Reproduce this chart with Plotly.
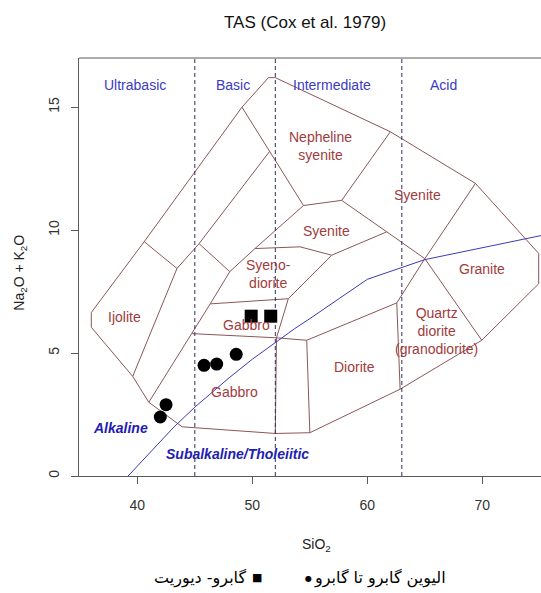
import plotly.graph_objects as go

# ---- sample analyses: SiO2 (wt%) and Na2O+K2O (wt%) ----
OL_GABBRO_SIO2 = [42.0, 42.5, 45.8, 46.9, 48.6]
OL_GABBRO_ALK = [2.4, 2.9, 4.5, 4.55, 4.95]
GAB_DIOR_SIO2 = [49.9, 51.6]
GAB_DIOR_ALK = [6.5, 6.5]
OL_GABBRO_NAME = "الیوین گابرو تا گابرو"
GAB_DIOR_NAME = "گابرو- دیوریت"

# ---- alkaline / subalkaline divide (Irvine & Baragar) ----
ALK_DIVIDE_SIO2 = [39.2, 40, 43.2, 45, 48, 50, 53.7, 55, 60, 65, 77.4]
ALK_DIVIDE_ALK = [0, 0.4, 2, 2.8, 4, 4.75, 6, 6.4, 8, 8.8, 10]

# ---- silica classes ----
SILICA_DIVISIONS = [45, 52, 63]
SILICA_CLASSES = ["Ultrabasic", "Basic", "Intermediate", "Acid"]
SILICA_CLASS_X = [39.8, 48.3, 56.9, 66.6]
SILICA_CLASS_Y = 15.9

# ---- field boundaries (SiO2, Na2O+K2O) ----
OUTLINE_SIO2 = [36.0, 40.6, 49.1, 51.4, 52.0, 62.0, 69.4, 74.9, 74.9, 69.95,
                62.85, 55.0, 52.0, 43.9, 41.0, 39.6, 36.0, 36.0]
OUTLINE_ALK = [6.65, 9.53, 15.0, 16.2, 16.2, 14.0, 11.9, 9.05, 7.82, 5.52,
               3.53, 1.76, 1.73, 2.0, 3.0, 4.05, 6.05, 6.65]
IJOLITE_TOP = ([40.6, 43.45], [9.53, 8.44])
IJOLITE_RIGHT = ([43.45, 39.6], [8.44, 4.05])
STRIP_UPPER = ([43.45, 45.37, 51.5], [8.44, 9.45, 13.2])
STRIP_STUB = ([45.37, 48.04], [9.45, 8.31])
STRIP_LOWER = ([41.0, 44.76, 46.34, 48.04, 50.23, 54.45], [3.0, 5.79, 7.0, 8.31, 9.25, 11.0])
NEPH_LEFT = ([49.1, 51.5, 54.45], [15.0, 13.2, 11.0])
NEPH_BASE = ([54.45, 57.77, 62.0], [11.0, 11.21, 14.0])
SYENITE_RIGHT = ([69.4, 65.0, 61.69, 57.77], [11.9, 8.84, 9.93, 11.21])
SYENITE_BASE = ([61.69, 56.9], [9.93, 8.98])
SYENODIORITE_TOP = ([50.23, 54.15, 56.9], [9.25, 9.32, 8.98])
SYENODIORITE_RIGHT = ([56.9, 53.13, 52.1], [8.98, 7.21, 5.62])
SYENODIORITE_BASE = ([46.34, 53.13], [7.0, 7.21])
GABBRO_DIORITE_TOP = ([44.76, 52.1, 54.73, 62.56, 65.0], [5.79, 5.62, 5.52, 7.04, 8.84])
GRANITE_BASE = ([65.0, 69.95], [8.84, 5.52])
DIORITE_RIGHT = ([62.56, 62.85], [7.04, 3.53])
DIORITE_LEFT = ([54.73, 55.0], [5.52, 1.76])
GABBRO_RIGHT = ([52.1, 52.0], [5.62, 1.73])

# ---- field names ----
FIELD_NAMES = ["Nepheline<br>syenite", "Syenite", "Syenite", "Syeno-<br>diorite", "Ijolite",
               "Gabbro", "Gabbro", "Diorite", "Granite", "Quartz<br>diorite<br>(granodiorite)"]
FIELD_X = [55.94, 64.38, 56.42, 51.38, 38.85, 49.5, 48.41, 58.9, 69.93, 66.0]
FIELD_Y = [13.43, 11.44, 9.98, 8.2, 6.47, 6.13, 3.43, 4.44, 8.4, 5.88]
SERIES_NAMES = ["Alkaline", "Subalkaline/Tholeiitic"]
SERIES_X = [38.5, 48.69]
SERIES_Y = [1.97, 0.91]

X_RANGE = [34.93, 75.1]
Y_RANGE = [0, 17]

SANS = "Liberation Sans, Arial, sans-serif"
PERSIAN = "DejaVu Sans, sans-serif"
FIELD_LINE = "#8c5656"
FIELD_TEXT = "#a03c3c"

fig = go.Figure()

boundaries = [
    (OUTLINE_SIO2, OUTLINE_ALK), IJOLITE_TOP, IJOLITE_RIGHT, STRIP_UPPER, STRIP_STUB,
    STRIP_LOWER, NEPH_LEFT, NEPH_BASE, SYENITE_RIGHT, SYENITE_BASE, SYENODIORITE_TOP,
    SYENODIORITE_RIGHT, SYENODIORITE_BASE, GABBRO_DIORITE_TOP, GRANITE_BASE,
    DIORITE_RIGHT, DIORITE_LEFT, GABBRO_RIGHT,
]
for bx, by in boundaries:
    fig.add_trace(go.Scatter(x=bx, y=by, mode="lines", showlegend=False, hoverinfo="skip",
                             line=dict(color=FIELD_LINE, width=1)))

for sx in SILICA_DIVISIONS:
    fig.add_trace(go.Scatter(x=[sx, sx], y=Y_RANGE, mode="lines", showlegend=False,
                             hoverinfo="skip",
                             line=dict(color="#2f2f5c", width=1, dash="4px,3px")))

fig.add_trace(go.Scatter(x=ALK_DIVIDE_SIO2, y=ALK_DIVIDE_ALK, mode="lines", showlegend=False,
                         hoverinfo="skip", line=dict(color="#3a3ab8", width=1)))

fig.add_trace(go.Scatter(x=OL_GABBRO_SIO2, y=OL_GABBRO_ALK, mode="markers", name=OL_GABBRO_NAME,
                         showlegend=False,
                         marker=dict(symbol="circle", size=13, color="black")))
fig.add_trace(go.Scatter(x=GAB_DIOR_SIO2, y=GAB_DIOR_ALK, mode="markers", name=GAB_DIOR_NAME,
                         showlegend=False,
                         marker=dict(symbol="square", size=13, color="black")))


def paper_text(x, y, text, size, color="#222", family=SANS, xanchor="center", angle=0):
    return dict(x=x, y=y, xref="paper", yref="paper", text=text, showarrow=False,
                xanchor=xanchor, yanchor="middle", textangle=angle,
                font=dict(family=family, size=size, color=color))


ann = []
for name, gx in zip(SILICA_CLASSES, SILICA_CLASS_X):
    ann.append(dict(x=gx, y=SILICA_CLASS_Y, xref="x", yref="y", text=name, showarrow=False,
                    font=dict(family=SANS, size=14, color="#3b3bc4")))
for name, fx, fy in zip(FIELD_NAMES, FIELD_X, FIELD_Y):
    ann.append(dict(x=fx, y=fy, xref="x", yref="y", text=name, showarrow=False,
                    font=dict(family=SANS, size=14, color=FIELD_TEXT)))
for name, sx, sy in zip(SERIES_NAMES, SERIES_X, SERIES_Y):
    ann.append(dict(x=sx, y=sy, xref="x", yref="y", text="<b><i>" + name + "</i></b>",
                    showarrow=False, font=dict(family=SANS, size=14, color="#1e1eb0")))

# title and axis titles
ann.append(paper_text(0.489, 1.084, "TAS (Cox et al. 1979)", 17, "#111"))
ann.append(paper_text(0.513, -0.165, "SiO<sub>2</sub>", 14))
ann.append(paper_text(-0.128, 0.486, "Na<sub>2</sub>O + K<sub>2</sub>O", 14, angle=-90))

# legend row
ann.append(paper_text(0.4957, -0.2445, "●", 8, "black", PERSIAN))
ann.append(paper_text(0.504, -0.2445, OL_GABBRO_NAME, 16, "black", PERSIAN, xanchor="left"))
ann.append(paper_text(0.385, -0.2435, "■", 11, "black", PERSIAN))
ann.append(paper_text(0.366, -0.2445, GAB_DIOR_NAME, 16, "black", PERSIAN, xanchor="right"))

fig.update_layout(
    width=541, height=593, autosize=False,
    margin=dict(l=79, r=0, t=58, b=117),
    paper_bgcolor="white", plot_bgcolor="white",
    annotations=ann,
    shapes=[dict(type="line", xref="paper", yref="paper", x0=0, x1=1, y0=1, y1=1,
                 line=dict(color="#5a5a5a", width=1))],
    xaxis=dict(range=X_RANGE, tickvals=[40, 50, 60, 70], ticks="outside", ticklen=7,
               tickcolor="#5a5a5a", showgrid=False, zeroline=False, showline=True,
               linecolor="#5a5a5a", linewidth=1, ticklabelstandoff=9,
               tickfont=dict(family=SANS, size=14, color="#333")),
    yaxis=dict(range=Y_RANGE, tickvals=[0, 5, 10, 15], ticks="outside", ticklen=7,
               tickcolor="#5a5a5a", showgrid=False, zeroline=False, showline=True,
               linecolor="#5a5a5a", linewidth=1, tickangle=-90, ticklabelstandoff=6,
               tickfont=dict(family=SANS, size=14, color="#333")),
)

fig.write_html("out.html")
